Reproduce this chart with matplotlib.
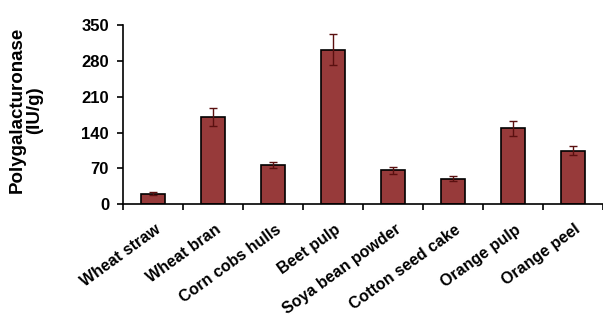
import numpy as np
import matplotlib
matplotlib.use("Agg")
import matplotlib.pyplot as plt
from matplotlib.transforms import ScaledTranslation

plt.rcParams['font.family'] = ['Liberation Sans', 'DejaVu Sans']
plt.rcParams['font.weight'] = 'bold'

substrates = ['Wheat straw', 'Wheat bran', 'Corn cobs hulls', 'Beet pulp',
              'Soya bean powder', 'Cotton seed cake', 'Orange pulp', 'Orange peel']
activity = [21, 170, 77, 302, 66, 50, 148, 105]
sd = [3, 18, 6, 31, 7, 5, 14, 8]

fig = plt.figure(figsize=(6.03, 3.23), dpi=100)
ax = fig.add_axes([0.204, 0.3675, 0.796, 0.555])

x = np.arange(len(substrates))
ax.bar(x, activity, width=0.41, color='#973a3a', edgecolor='black', linewidth=1.2,
       yerr=sd, error_kw=dict(ecolor='#5a1010', elinewidth=1.0, capsize=3, capthick=1.0))

ax.set_xlim(-0.5, len(substrates) - 0.5)
ax.set_ylim(0, 350)
ax.set_yticks(np.arange(0, 351, 70))
ax.tick_params(axis='y', labelsize=12, direction='out', length=4, width=1.2, pad=6)

# category names on hidden major ticks, tick marks between categories
ax.set_xticks(x)
ax.set_xticklabels(substrates, rotation=36, ha='right', va='center',
                   rotation_mode='anchor', fontsize=11.5)
ax.tick_params(axis='x', which='major', length=0, pad=17)
ax.set_xticks(np.arange(-0.5, len(substrates)), minor=True)
ax.tick_params(axis='x', which='minor', direction='out', length=4, width=1.2)
shift = ScaledTranslation(6 / 100, 0, fig.dpi_scale_trans)
for lab in ax.get_xticklabels():
    lab.set_transform(lab.get_transform() + shift)

for side in ['top', 'right']:
    ax.spines[side].set_visible(False)
for side in ['left', 'bottom']:
    ax.spines[side].set_linewidth(1.2)

fig.text(0.043, 0.66, 'Polygalacturonase\n(IU/g)', rotation=90, ha='center', va='center',
         fontsize=13.5, fontweight='bold', linespacing=1.0)

fig.savefig('out.png', dpi=100)
